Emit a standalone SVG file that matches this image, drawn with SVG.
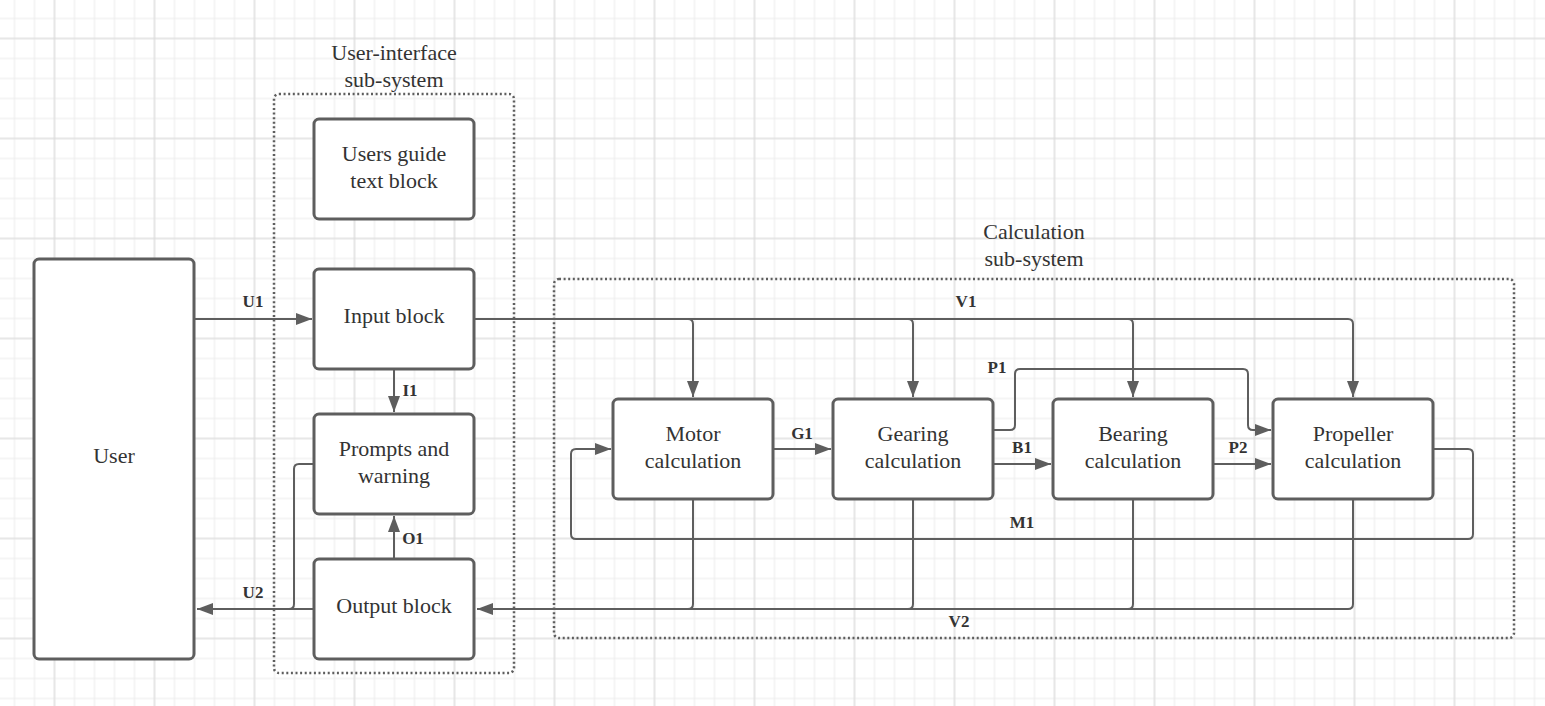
<svg xmlns="http://www.w3.org/2000/svg" width="1545" height="706" viewBox="0 0 1545 706">
<style>
.node rect{fill:#fff;stroke:#5e5e5e;stroke-width:3}
.node text,.title{font-family:"Liberation Serif","Times New Roman",serif;font-size:22px;fill:#333;text-anchor:middle}
.container{fill:none;stroke:#5e5e5e;stroke-width:2.5;stroke-dasharray:2 2.6}
.conn path{fill:none;stroke:#5e5e5e;stroke-width:2}
.conn .arr{marker-end:url(#ah)}
.lbl{font-family:"Liberation Serif","Times New Roman",serif;font-size:17px;font-weight:bold;fill:#333;text-anchor:middle}
</style>
<defs>
<pattern id="gmin" patternUnits="userSpaceOnUse" x="4.5" y="8.5" width="20" height="20">
<path d="M10,0 V20 M0,10 H20" stroke="#ebebeb" stroke-width="1" fill="none"/>
</pattern>
<pattern id="gmaj" patternUnits="userSpaceOnUse" x="4.5" y="-11.5" width="100" height="100">
<path d="M50,0 V100 M0,50 H100" stroke="#d9d9d9" stroke-width="1" fill="none"/>
</pattern>
<marker id="ah" markerUnits="userSpaceOnUse" markerWidth="16" markerHeight="12" refX="16" refY="6" orient="auto">
<path d="M0,0 L16,6 L0,12 z" fill="#5e5e5e"/>
</marker>
</defs>
<rect width="1545" height="706" fill="#fff"/>
<rect width="1545" height="706" fill="url(#gmin)"/>
<rect width="1545" height="706" fill="url(#gmaj)"/>

<g id="ui-subsystem">
<rect class="container" x="274" y="94" width="240" height="579" rx="5"/>
<text class="title" x="394" y="60">User-interface</text>
<text class="title" x="394" y="87">sub-system</text>
</g>
<g id="calc-subsystem">
<rect class="container" x="554" y="279" width="960" height="359" rx="5"/>
<text class="title" x="1034" y="239">Calculation</text>
<text class="title" x="1034" y="266">sub-system</text>
</g>

<g id="connectors" class="conn">
<path class="arr" d="M194,319 H312"/>
<path class="arr" d="M394,369 V412"/>
<path class="arr" d="M394,559 V516"/>
<path class="arr" d="M314,609 H197"/>
<path d="M314,464 H299 Q294,464 294,469 V604 Q294,609 289,609 H270"/>
<path class="arr" d="M474,319 H1348 Q1353,319 1353,324 V397"/>
<path class="arr" d="M688,319 Q693,319 693,324 V397"/>
<path class="arr" d="M908,319 Q913,319 913,324 V397"/>
<path class="arr" d="M1128,319 Q1133,319 1133,324 V397"/>
<path class="arr" d="M993,430 H1010 Q1015,430 1015,425 V374 Q1015,369 1020,369 H1243 Q1248,369 1248,374 V425 Q1248,430 1253,430 H1271"/>
<path class="arr" d="M773,449 H831"/>
<path class="arr" d="M993,464 H1051"/>
<path class="arr" d="M1213,464 H1271"/>
<path class="arr" d="M1433,449 H1468 Q1473,449 1473,454 V534 Q1473,539 1468,539 H576 Q571,539 571,534 V454 Q571,449 576,449 H611"/>
<path class="arr" d="M1353,499 V604 Q1353,609 1348,609 H477"/>
<path d="M693,499 V604 Q693,609 688,609 H600"/>
<path d="M913,499 V604 Q913,609 908,609 H800"/>
<path d="M1133,499 V604 Q1133,609 1128,609 H1000"/>
<text class="lbl" x="253" y="307">U1</text>
<text class="lbl" x="410" y="396">I1</text>
<text class="lbl" x="413" y="544">O1</text>
<text class="lbl" x="253" y="598">U2</text>
<text class="lbl" x="966" y="307">V1</text>
<text class="lbl" x="997" y="373">P1</text>
<text class="lbl" x="802" y="439">G1</text>
<text class="lbl" x="1022" y="453">B1</text>
<text class="lbl" x="1238" y="453">P2</text>
<text class="lbl" x="1022" y="528">M1</text>
<text class="lbl" x="959" y="627">V2</text>
</g>

<g id="user" class="node"><rect x="34" y="259" width="160" height="400" rx="5"/><text x="114" y="463">User</text></g>
<g id="users-guide" class="node"><rect x="314" y="119" width="160" height="100" rx="5"/><text x="394" y="161">Users guide</text><text x="394" y="188">text block</text></g>
<g id="input-block" class="node"><rect x="314" y="269" width="160" height="100" rx="5"/><text x="394" y="323">Input block</text></g>
<g id="prompts" class="node"><rect x="314" y="414" width="160" height="100" rx="5"/><text x="394" y="456">Prompts and</text><text x="394" y="483">warning</text></g>
<g id="output-block" class="node"><rect x="314" y="559" width="160" height="100" rx="5"/><text x="394" y="613">Output block</text></g>
<g id="motor" class="node"><rect x="613" y="399" width="160" height="100" rx="5"/><text x="693" y="441">Motor</text><text x="693" y="468">calculation</text></g>
<g id="gearing" class="node"><rect x="833" y="399" width="160" height="100" rx="5"/><text x="913" y="441">Gearing</text><text x="913" y="468">calculation</text></g>
<g id="bearing" class="node"><rect x="1053" y="399" width="160" height="100" rx="5"/><text x="1133" y="441">Bearing</text><text x="1133" y="468">calculation</text></g>
<g id="propeller" class="node"><rect x="1273" y="399" width="160" height="100" rx="5"/><text x="1353" y="441">Propeller</text><text x="1353" y="468">calculation</text></g>
</svg>
